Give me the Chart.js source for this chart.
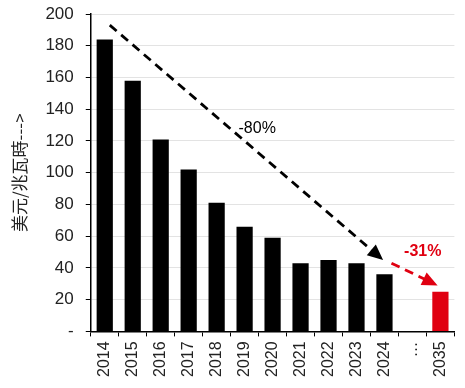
<!DOCTYPE html>
<html>
<head>
<meta charset="utf-8">
<script src="https://cdn.jsdelivr.net/npm/chart.js@4"></script>
<style>
  html, body { margin: 0; padding: 0; background: #fff; }
  #wrap { width: 465px; height: 388px; }
</style>
</head>
<body>
<div id="wrap"><canvas id="costChart"></canvas></div>
<script>
// categories and values
const years = ['2014', '2015', '2016', '2017', '2018', '2019', '2020', '2021', '2022', '2023', '2024', '…', '2035'];
const costs = [184, 158, 121, 102, 81, 66, 59, 43, 45, 43, 36, null, 25];
const yTicks = [0, 20, 40, 60, 80, 100, 120, 140, 160, 180, 200];

// trend arrows, in data units (category index, value)
const trendArrows = [
    { from: [0.18, 193], to: [9.95, 45], color: '#000000', label: '-80%', at: [5.45, 128], bold: false },
    { from: [10.25, 43], to: [11.9, 29], color: '#e00011', label: '-31%', at: [11.37, 50], bold: true }
];

const barColors = years.map(y => y === '2035' ? '#e00011' : '#000000');

const arrowPlugin = {
    id: 'trendArrows',
    afterDatasetsDraw(chart) {
        const ctx = chart.ctx;
        const xs = chart.scales.x;
        const ys = chart.scales.y;
        trendArrows.forEach(a => {
            const x1 = xs.getPixelForValue(a.from[0]);
            const y1 = ys.getPixelForValue(a.from[1]);
            const x2 = xs.getPixelForValue(a.to[0]);
            const y2 = ys.getPixelForValue(a.to[1]);
            const ang = Math.atan2(y2 - y1, x2 - x1);
            const head = 17;
            ctx.save();
            ctx.strokeStyle = a.color;
            ctx.fillStyle = a.color;
            ctx.lineWidth = 2.8;
            ctx.setLineDash([9, 6]);
            ctx.beginPath();
            ctx.moveTo(x1, y1);
            ctx.lineTo(x2 - Math.cos(ang) * head * 0.8, y2 - Math.sin(ang) * head * 0.8);
            ctx.stroke();
            ctx.setLineDash([]);
            ctx.beginPath();
            ctx.moveTo(x2, y2);
            ctx.lineTo(x2 - head * Math.cos(ang - 0.42), y2 - head * Math.sin(ang - 0.42));
            ctx.lineTo(x2 - head * Math.cos(ang + 0.42), y2 - head * Math.sin(ang + 0.42));
            ctx.closePath();
            ctx.fill();
            ctx.font = (a.bold ? 'bold ' : '') + '16px "Liberation Sans", Arial, sans-serif';
            ctx.textAlign = 'center';
            ctx.textBaseline = 'middle';
            ctx.fillText(a.label, xs.getPixelForValue(a.at[0]), ys.getPixelForValue(a.at[1]));
            ctx.restore();
        });
    }
};

const ctx = document.getElementById('costChart').getContext('2d');
new Chart(ctx, {
    type: 'bar',
    data: {
        labels: years,
        datasets: [{
            data: costs,
            backgroundColor: barColors,
            borderWidth: 0,
            categoryPercentage: 1,
            barPercentage: 0.58
        }]
    },
    options: {
        responsive: true,
        maintainAspectRatio: false,
        animation: false,
        layout: { padding: { top: 0, right: 10, left: 9, bottom: 6 } },
        plugins: {
            legend: { display: false },
            tooltip: { enabled: false }
        },
        scales: {
            y: {
                min: 0,
                max: 200,
                afterBuildTicks: axis => { axis.ticks = yTicks.map(v => ({ value: v })); },
                // tick padding would otherwise push the plot top down
                afterFit: axis => { axis.paddingTop = 14; axis.paddingBottom = 10; },
                ticks: {
                    color: '#222',
                    font: { family: '"Liberation Sans", Arial, sans-serif', size: 17 },
                    padding: 12,
                    callback: v => v === 0 ? '-' : v
                },
                grid: {
                    color: '#e3e3e3',
                    lineWidth: 1,
                    tickColor: '#000',
                    tickLength: 5
                },
                border: { color: '#000', width: 1.5 },
                title: {
                    display: true,
                    text: '美元/兆瓦時--->',
                    color: '#222',
                    font: { family: '"Noto Sans CJK TC", sans-serif', size: 17 },
                    padding: { top: 0, bottom: 4 }
                }
            },
            x: {
                ticks: {
                    color: '#222',
                    font: { family: '"Liberation Sans", Arial, sans-serif', size: 16 },
                    maxRotation: 90,
                    minRotation: 90,
                    padding: 5,
                    autoSkip: false
                },
                grid: {
                    offset: true,
                    drawOnChartArea: false,
                    tickColor: '#000',
                    tickLength: 5
                },
                border: { color: '#000', width: 1.5 }
            }
        }
    },
    plugins: [arrowPlugin]
});
</script>
</body>
</html>
